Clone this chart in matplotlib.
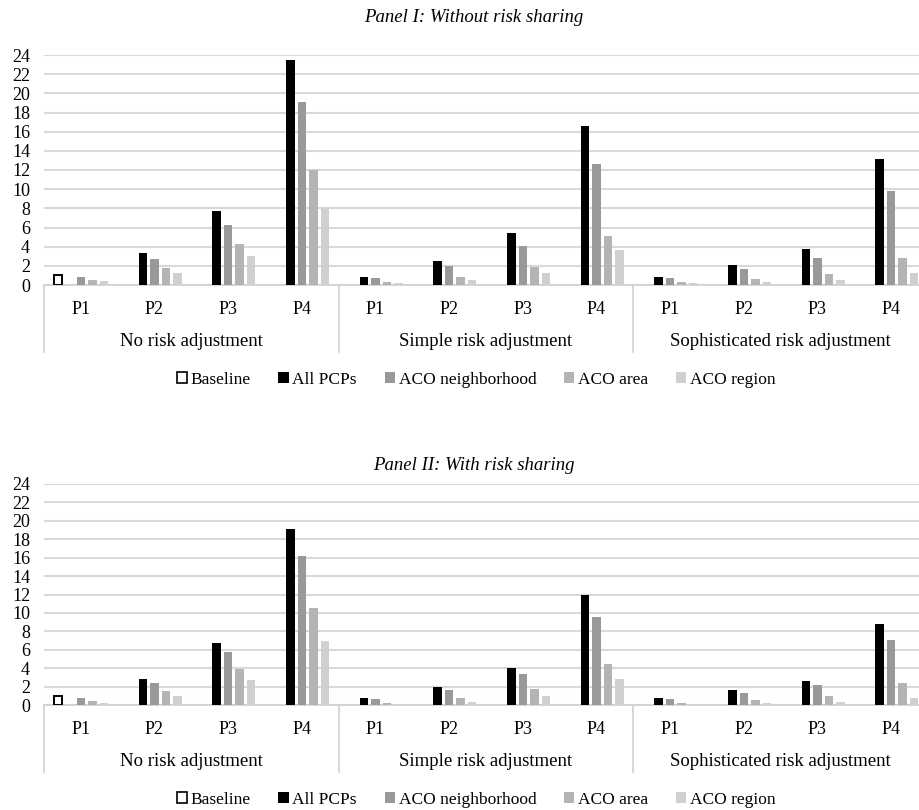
import numpy as np
import matplotlib.pyplot as plt
from matplotlib.patches import Patch

plt.rcParams['font.family'] = ['Liberation Serif', 'DejaVu Serif']

groups = ["No risk adjustment", "Simple risk adjustment", "Sophisticated risk adjustment"]
periods = ["P1", "P2", "P3", "P4"]
series = ["Baseline", "All PCPs", "ACO neighborhood", "ACO area", "ACO region"]
colors = ["white", "black", "#999999", "#b4b4b4", "#d0d0d0"]

# Panel I: without risk sharing (12 categories = 3 groups x P1..P4)
p1_baseline = [1.0, 0, 0, 0, 0, 0, 0, 0, 0, 0, 0, 0]
p1_all_pcps = [0, 3.3, 7.75, 23.5, 0.83, 2.5, 5.4, 16.6, 0.83, 2.05, 3.72, 13.2]
p1_nbhd = [0.8, 2.7, 6.3, 19.05, 0.73, 1.98, 4.03, 12.6, 0.73, 1.63, 2.78, 9.8]
p1_area = [0.52, 1.77, 4.28, 11.95, 0.31, 0.83, 1.88, 5.15, 0.31, 0.63, 1.11, 2.78]
p1_region = [0.42, 1.25, 3.03, 8.0, 0.21, 0.56, 1.25, 3.65, 0.2, 0.31, 0.52, 1.25]

# Panel II: with risk sharing
p2_baseline = [1.0, 0, 0, 0, 0, 0, 0, 0, 0, 0, 0, 0]
p2_all_pcps = [0, 2.85, 6.7, 19.15, 0.8, 1.96, 4.0, 11.95, 0.8, 1.67, 2.6, 8.85]
p2_nbhd = [0.8, 2.4, 5.75, 16.15, 0.65, 1.63, 3.33, 9.6, 0.65, 1.3, 2.17, 7.1]
p2_area = [0.47, 1.52, 3.95, 10.55, 0.25, 0.8, 1.74, 4.42, 0.25, 0.58, 0.98, 2.36]
p2_region = [0.25, 0.98, 2.72, 6.9, 0.15, 0.36, 0.98, 2.83, 0.15, 0.25, 0.36, 0.8]

W, H = 919, 810
fig = plt.figure(figsize=(W / 100, H / 100), dpi=100)


def draw_panel(top_px, bottom_px, title, title_px, legend_px, data):
    # plot area runs a little past the right edge, as in the original crop
    left_px, right_px = 44, 928
    ax = fig.add_axes([left_px / W, 1 - bottom_px / H,
                       (right_px - left_px) / W, (bottom_px - top_px) / H])
    h_px = bottom_px - top_px
    n = len(data[0])
    x = np.arange(n)
    pitch = 0.156
    width = 0.116
    for i, vals in enumerate(data):
        vals = np.array(vals, dtype=float)
        keep = vals > 0
        xs = (x + (i - 2) * pitch)[keep]
        if i == 0:
            ax.bar(xs, vals[keep], width, color="white", edgecolor="black",
                   linewidth=1.4, zorder=3)
        else:
            ax.bar(xs, vals[keep], width, color=colors[i], zorder=3)
    ax.set_xlim(-0.5, n - 0.5)
    ax.set_ylim(0, 24)
    ax.set_yticks(np.arange(0, 25, 2))
    ax.grid(axis="y", color="#d9d9d9", linewidth=1.5, zorder=0)
    ax.tick_params(axis="y", length=0, labelsize=13, pad=10)
    ax.set_xticks([])
    for s in ["top", "right", "left"]:
        ax.spines[s].set_visible(False)
    ax.spines["bottom"].set_color("#d0d0d0")
    ax.spines["bottom"].set_linewidth(1.2)

    # two-level category axis
    tr = ax.get_xaxis_transform()
    for k in range(n):
        ax.text(k, -24 / h_px, periods[k % 4], transform=tr,
                ha="center", va="center", fontsize=13)
    for g, name in enumerate(groups):
        ax.text(g * 4 + 1.5, -56 / h_px, name, transform=tr,
                ha="center", va="center", fontsize=13.5)
    for b in [-0.5, 3.5, 7.5]:
        ax.plot([b, b], [0, -67 / h_px], transform=tr,
                color="#d0d0d0", linewidth=1.2, clip_on=False)

    fig.text(474 / W, 1 - title_px / H, title, ha="center", va="center",
             fontsize=13.5, style="italic")

    handles = [Patch(facecolor=colors[i], edgecolor="black" if i == 0 else colors[i],
                     linewidth=1.2 if i == 0 else 0) for i in range(5)]
    fig.legend(handles, series, loc="center", bbox_to_anchor=(476 / W, 1 - legend_px / H),
               ncol=5, frameon=False, fontsize=12.5, handlelength=0.6, handleheight=0.6,
               handletextpad=0.2, columnspacing=1.6)
    return ax


draw_panel(55, 285, "Panel I: Without risk sharing", 18, 380,
           [p1_baseline, p1_all_pcps, p1_nbhd, p1_area, p1_region])
draw_panel(484, 705, "Panel II: With risk sharing", 466, 800,
           [p2_baseline, p2_all_pcps, p2_nbhd, p2_area, p2_region])

fig.savefig("out.png", dpi=100)
